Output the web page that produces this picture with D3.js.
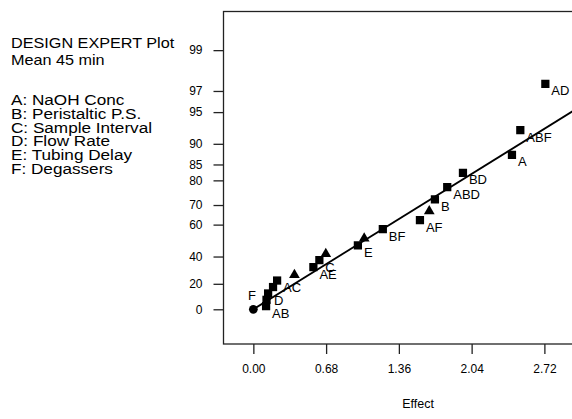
<!DOCTYPE html>
<html>
<head>
<meta charset="utf-8">
<script src="https://d3js.org/d3.v7.min.js"></script>
<style>
  body { margin: 0; background: #fff; }
  svg text { font-family: "Liberation Sans", Arial, sans-serif; fill: #000; }
  .axis path, .axis line { stroke: #222; stroke-width: 1.3; }
  .axis text { font-size: 12px; }
</style>
</head>
<body>
<svg width="572" height="419"></svg>
<script>
// Header and factor legend
var header = ["DESIGN EXPERT Plot", "Mean 45 min"];
var factors = ["A: NaOH Conc", "B: Peristaltic P.S.", "C: Sample Interval",
               "D: Flow Rate", "E: Tubing Delay", "F: Degassers"];

// Effects (half-normal plot), sorted by rank
var effects = [0, 0.119, 0.123, 0.138, 0.184, 0.222, 0.384, 0.561, 0.617, 0.677,
               0.977, 1.036, 1.210, 1.557, 1.644, 1.697, 1.812, 1.959, 2.417, 2.495, 2.729];
var probs   = [0, 2.5, 7.5, 12.5, 17.5, 22.5, 27.5, 32.5, 37.5, 42.5,
               47.5, 52.5, 57.5, 62.5, 67.5, 72.5, 77.5, 82.5, 87.5, 92.5, 97.5];
var names   = ["F", "AB", "", "D", "", "AC", "", "AE", "C", "",
               "E", "", "BF", "AF", "", "B", "ABD", "BD", "A", "ABF", "AD"];
var shapes  = ["circle", "square", "square", "square", "square", "square", "triangle", "square", "square", "triangle",
               "square", "triangle", "square", "square", "triangle", "square", "square", "square", "square", "square", "square"];

// fitted line: z = effect / sigma
var fitSigma = 1.516;
var fitRange = [0, 3.2];

var yTicks = [0, 20, 40, 60, 70, 80, 85, 90, 95, 97, 99];
var xTicks = [0, 0.68, 1.36, 2.04, 2.72];

// inverse normal cdf (Acklam)
function probit(p) {
  var a = [-39.69683028665376, 220.9460984245205, -275.9285104469687, 138.3577518672690, -30.66479806614716, 2.506628277459239];
  var b = [-54.47609879822406, 161.5858368580409, -155.6989798598866, 66.80131188771972, -13.28068155288572];
  var c = [-0.007784894002430293, -0.3223964580411365, -2.400758277161838, -2.549732539343734, 4.374664141464968, 2.938163982698783];
  var d = [0.007784695709041462, 0.3224671290700398, 2.445134137142996, 3.754408661907416];
  var q, r;
  if (p < 0.02425) {
    q = Math.sqrt(-2 * Math.log(p));
    return (((((c[0]*q+c[1])*q+c[2])*q+c[3])*q+c[4])*q+c[5]) / ((((d[0]*q+d[1])*q+d[2])*q+d[3])*q+1);
  } else if (p > 1 - 0.02425) {
    q = Math.sqrt(-2 * Math.log(1 - p));
    return -(((((c[0]*q+c[1])*q+c[2])*q+c[3])*q+c[4])*q+c[5]) / ((((d[0]*q+d[1])*q+d[2])*q+d[3])*q+1);
  }
  q = p - 0.5; r = q * q;
  return (((((a[0]*r+a[1])*r+a[2])*r+a[3])*r+a[4])*r+a[5])*q / (((((b[0]*r+b[1])*r+b[2])*r+b[3])*r+b[4])*r+1);
}
function halfZ(pct) { return pct <= 0 ? 0 : probit(0.5 + pct / 200); }

var svg = d3.select("svg");

var frame = {left: 223.5, top: 11.5, right: 592, bottom: 344};

var x = d3.scaleLinear().domain([-0.279, 3.165]).range([frame.left, frame.right]);
var zScale = d3.scaleLinear().domain([-0.345, 2.96]).range([frame.bottom, frame.top]);
var y = function(p) { return zScale(halfZ(p)); };

// left text (source font is a bit wider than Arial)
var stretch = 1.08;
svg.append("g")
  .attr("transform", "scale(" + stretch + ",1)")
  .selectAll("text")
  .data(header).enter().append("text")
    .attr("x", 11 / stretch).attr("y", function(d, i) { return 48 + i * 17; })
    .style("font-size", "15px")
    .text(function(d) { return d; });

var stretch2 = 1.2;
svg.append("g")
  .attr("transform", "scale(" + stretch2 + ",1)")
  .selectAll("text")
  .data(factors).enter().append("text")
    .attr("x", 11 / stretch2).attr("y", function(d, i) { return 105.5 + i * 13.65; })
    .style("font-size", "14.3px")
    .text(function(d) { return d; });

// frame
svg.append("rect")
  .attr("x", frame.left).attr("y", frame.top)
  .attr("width", frame.right - frame.left).attr("height", frame.bottom - frame.top)
  .attr("fill", "none").attr("stroke", "#222").attr("stroke-width", 1.3);

// axes
var yAxis = d3.axisLeft(zScale)
  .tickValues(yTicks.map(halfZ))
  .tickFormat(function(d, i) { return yTicks[i]; })
  .tickSize(10).tickPadding(11).tickSizeOuter(0);
svg.append("g").attr("class", "axis")
  .attr("transform", "translate(" + frame.left + ",0)")
  .call(yAxis)
  .call(function(g) { g.select(".domain").remove(); });

var xAxis = d3.axisBottom(x)
  .tickValues(xTicks).tickFormat(d3.format(".2f"))
  .tickSize(10).tickPadding(10).tickSizeOuter(0);
svg.append("g").attr("class", "axis")
  .attr("transform", "translate(0," + frame.bottom + ")")
  .call(xAxis)
  .call(function(g) { g.select(".domain").remove(); });

svg.append("text")
  .attr("x", 418).attr("y", 408)
  .attr("text-anchor", "middle")
  .style("font-size", "12.5px")
  .text("Effect");

// clip
svg.append("clipPath").attr("id", "plotclip")
  .append("rect")
  .attr("x", frame.left).attr("y", frame.top)
  .attr("width", frame.right - frame.left).attr("height", frame.bottom - frame.top);

var plot = svg.append("g").attr("clip-path", "url(#plotclip)");

// fitted line
plot.append("line")
  .attr("x1", x(fitRange[0])).attr("y1", zScale(fitRange[0] / fitSigma))
  .attr("x2", x(fitRange[1])).attr("y2", zScale(fitRange[1] / fitSigma))
  .attr("stroke", "#000").attr("stroke-width", 1.8);

// points
var symbols = { circle: d3.symbolCircle, square: d3.symbolSquare, triangle: d3.symbolTriangle };
var sizes = { circle: 60, square: 68, triangle: 50 };

plot.selectAll("path.pt")
  .data(effects).enter().append("path")
    .attr("class", "pt")
    .attr("transform", function(d, i) {
      var dy = shapes[i] === "triangle" ? 1 : 0;
      return "translate(" + x(d) + "," + (y(probs[i]) + dy) + ")";
    })
    .attr("d", function(d, i) { return d3.symbol().type(symbols[shapes[i]]).size(sizes[shapes[i]])(); })
    .attr("fill", "#000");

// labels
var labelled = d3.range(effects.length).filter(function(i) { return names[i] !== ""; });
svg.append("g").selectAll("text")
  .data(labelled).enter().append("text")
    .attr("x", function(i) { return i === 0 ? x(effects[i]) - 1.5 : x(effects[i]) + 6; })
    .attr("y", function(i) { return i === 0 ? y(probs[i]) - 9 : y(probs[i]) + 11.5; })
    .attr("text-anchor", function(i) { return i === 0 ? "middle" : "start"; })
    .style("font-size", "13px")
    .text(function(i) { return names[i]; });
</script>
</body>
</html>
